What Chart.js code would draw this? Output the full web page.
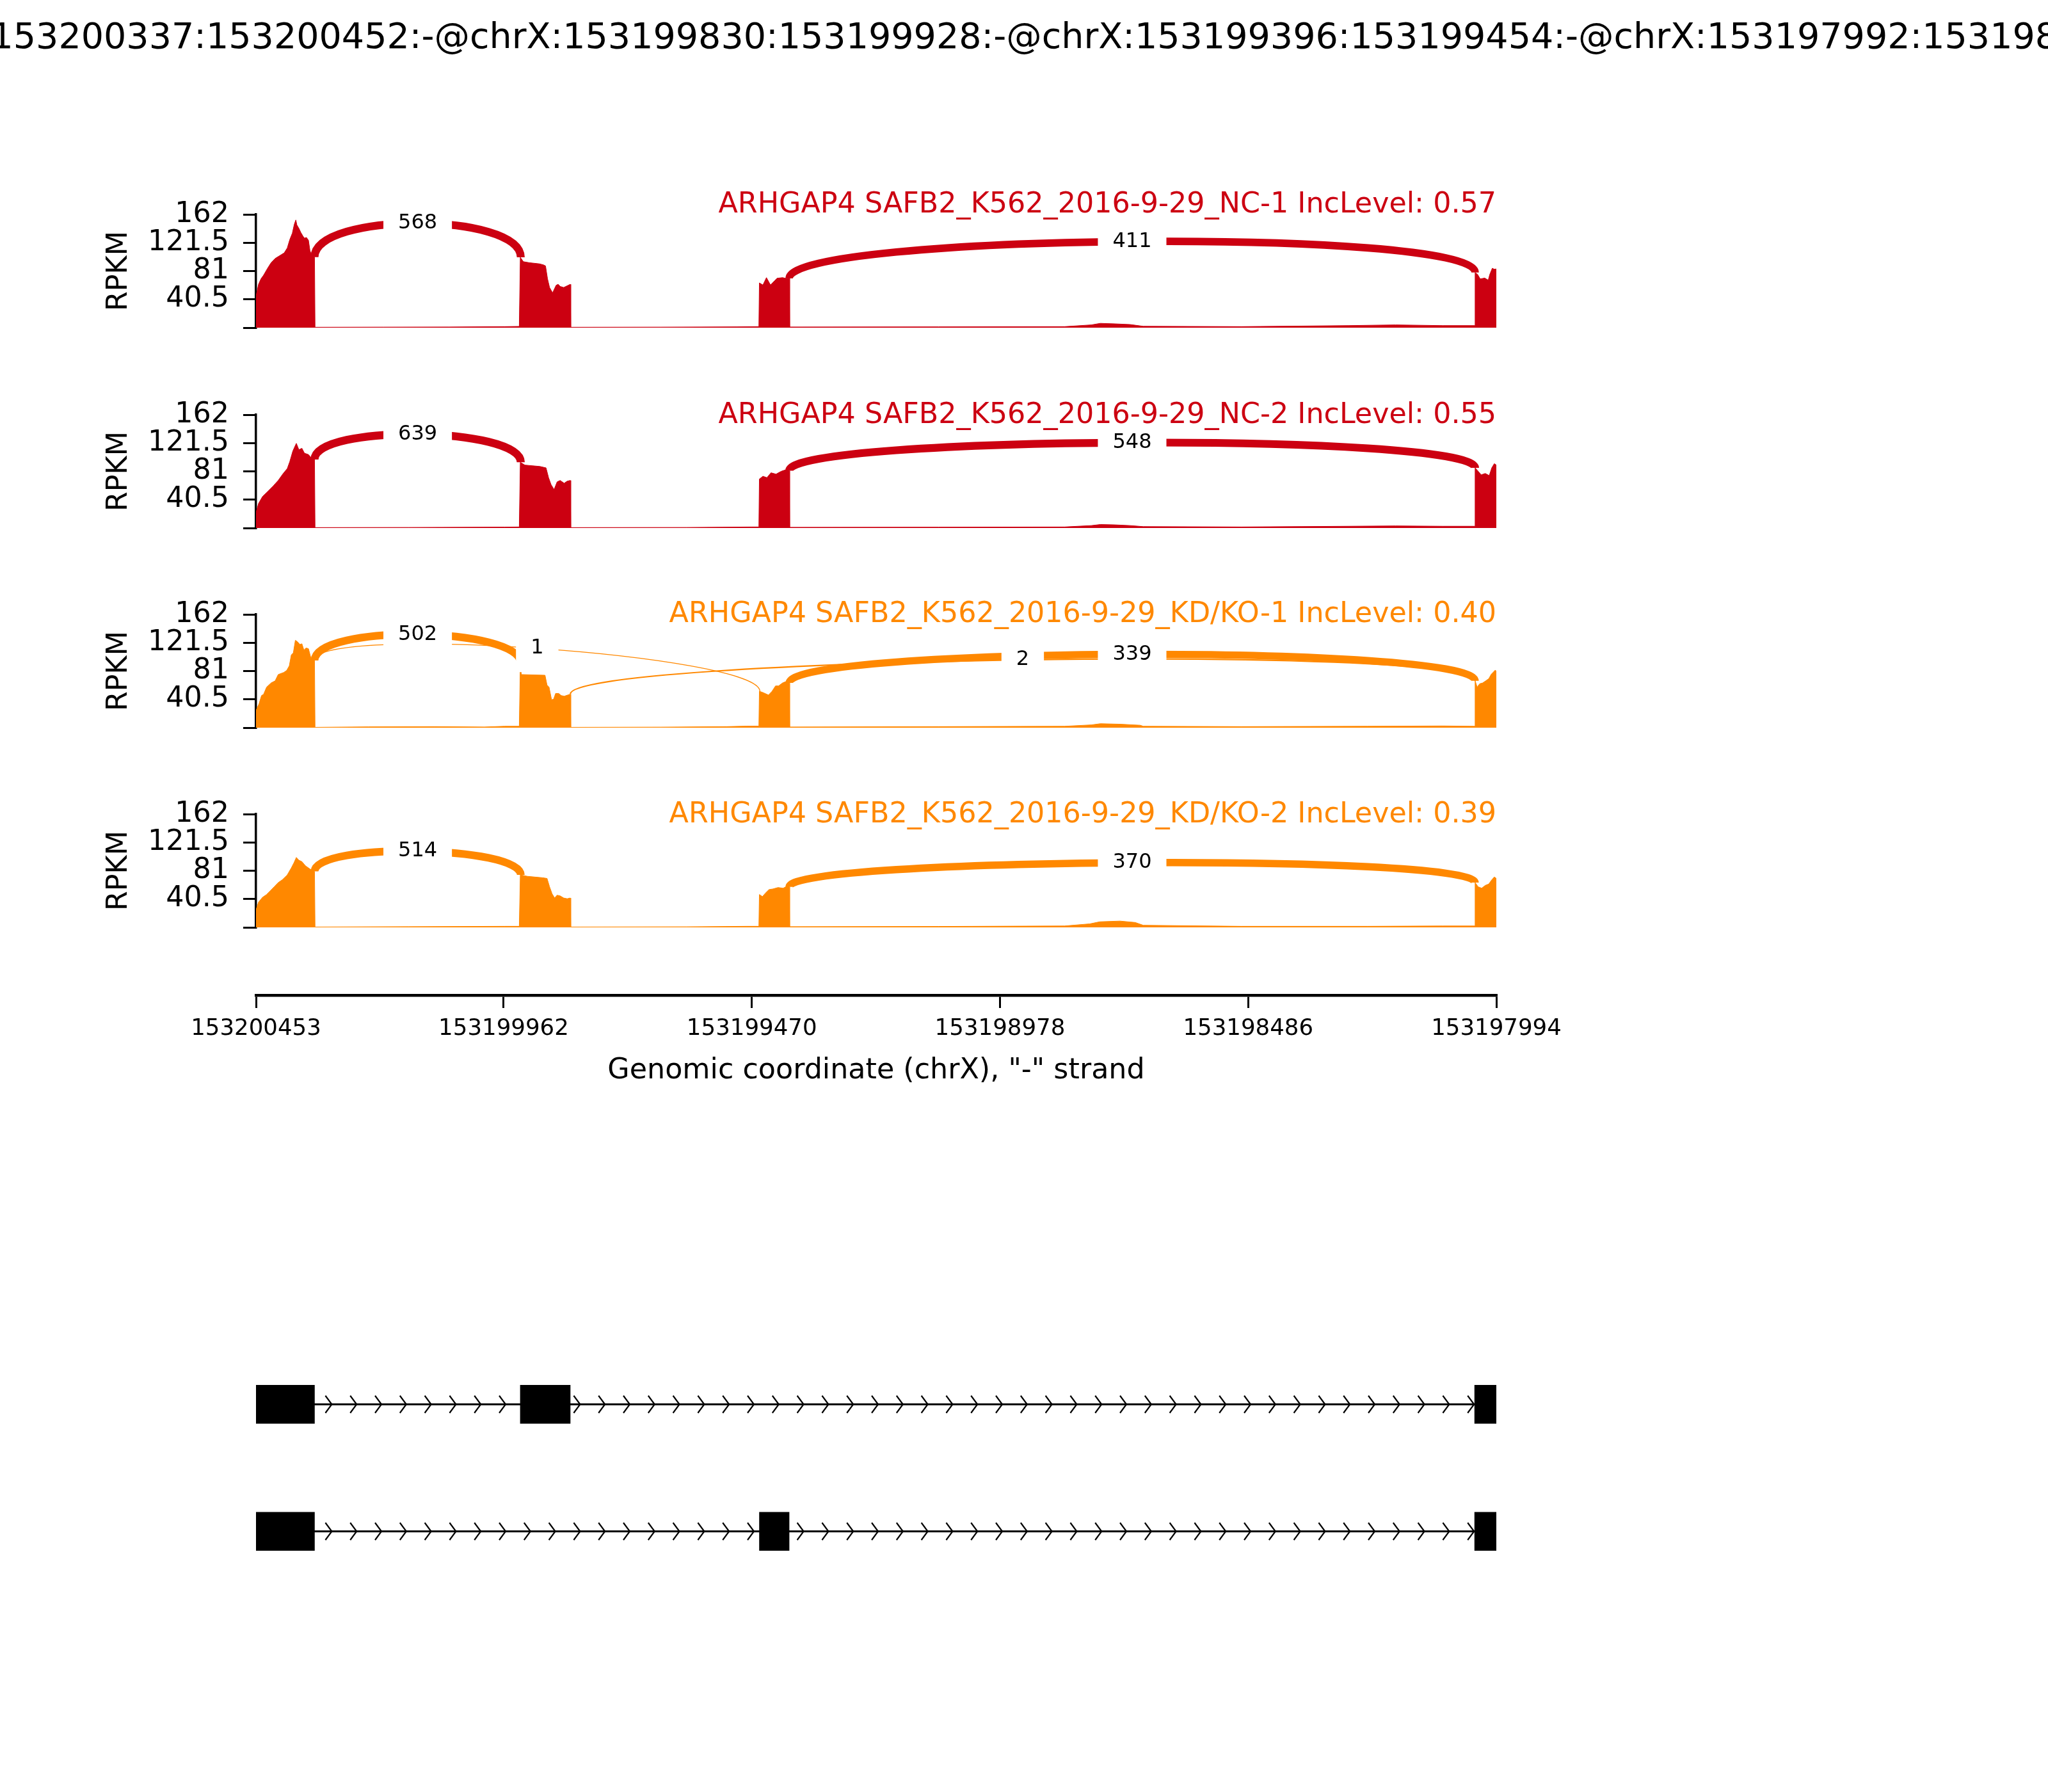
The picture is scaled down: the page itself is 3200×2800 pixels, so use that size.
<!DOCTYPE html>
<html><head><meta charset="utf-8">
<script src="https://cdn.jsdelivr.net/npm/chart.js@4.4.1/dist/chart.umd.min.js"></script>
<style>
html,body{margin:0;padding:0;background:#fff;}
#wrap{position:relative;width:3200px;height:2800px;overflow:hidden;background:#fff;}
#wrap canvas{position:absolute;left:0;}
</style></head><body><div id="wrap"></div>
<script>
// ---------------- data ----------------
const figureTitle = 'chrX:153200337:153200452:-@chrX:153199830:153199928:-@chrX:153199396:153199454:-@chrX:153197992:153198036:-';
const geneName = 'ARHGAP4';
const sampleNames = ['SAFB2_K562_2016-9-29_NC-1', 'SAFB2_K562_2016-9-29_NC-2', 'SAFB2_K562_2016-9-29_KD/KO-1', 'SAFB2_K562_2016-9-29_KD/KO-2'];
const incLevels = ['0.57', '0.55', '0.40', '0.39'];
const xTickValues = [153200453, 153199962, 153199470, 153198978, 153198486, 153197994];
const yTickValues = [0, 40.5, 81, 121.5, 162];
const xAxisTitle = 'Genomic coordinate (chrX), "-" strand';
const yAxisTitle = 'RPKM';

const nc1Pos = [153200453,153200448,153200443,153200438,153200430,153200423,153200415,153200406,153200397,153200391,153200386,153200381,153200377,153200374,153200372,153200368,153200364,153200360,153200357,153200353,153200349,153200346,153200343,153200339,153200337,
  153200336,153200200,153200070,153199960,153199931,
  153199929,153199923,153199911,153199891,153199883,153199879,153199875,153199871,153199865,153199858,153199854,153199850,153199843,153199830,
  153199829,153199650,153199500,153199456,
  153199455,153199448,153199441,153199433,153199425,153199420,153199409,153199400,153199396,
  153199395,153199100,153198850,153198797,153198779,153198750,153198720,153198694,153198500,153198287,153198194,153198100,153198037,
  153198036,153198031,153198026,153198017,153198010,153198007,153198002,153197998,153197994];
const nc1Cov = [45,62,70,75,85,93,99,103,107,114,126,135,148,154,147,142,136,131,128,129,125,110,104,101,101,
  0.6,0.8,1.0,1.5,1.8,
  100.6,94.4,92.9,91.3,89.8,88.3,69.8,57.5,49.8,60.6,62.1,59,57.5,62,
  0.6,0.8,1.2,1.5,
  64,61,71.6,61,67,70.7,71.6,70,70.5,
  1,1.2,1.5,4,6.2,5.5,4.5,2,1.5,3,4,3,3,
  79,76,69.7,71,68,76,85,83.6,84];

const nc2Pos = [153200453,153200448,153200440,153200430,153200419,153200409,153200399,153200391,153200386,153200380,153200375,153200373,153200368,153200362,153200357,153200349,153200343,153200339,153200337,
  153200336,153200150,153199960,153199931,
  153199929,153199920,153199905,153199890,153199878,153199873,153199868,153199862,153199856,153199850,153199842,153199836,153199830,
  153199829,153199600,153199470,153199456,
  153199455,153199448,153199440,153199432,153199422,153199412,153199404,153199396,
  153199395,153199100,153198850,153198797,153198779,153198750,153198720,153198694,153198500,153198287,153198194,153198100,153198037,
  153198036,153198031,153198024,153198016,153198008,153198003,153197998,153197994];
const nc2Cov = [22,35,45,52,60,68,78,85,95,110,118,121,112,114,107,105,100,98,98,
  0.6,0.8,1.3,1.5,
  94,90,89,88,86,72,62,55,66,68,64,67,68,
  0.6,0.8,1.5,1.5,
  70,74,72,79,77,81,83,82,
  1,1.2,1.5,3.5,5,4.5,3.5,2,1.5,2.5,3,2.5,2.5,
  86,82,76,78,75,86,92,90];

const kd1Pos = [153200453,153200451,153200447,153200442,153200438,153200432,153200423,153200415,153200409,153200398,153200392,153200387,153200383,153200379,153200375,153200371,153200366,153200362,153200358,153200354,153200349,153200345,153200343,153200337,
  153200336,153200230,153200100,153200000,153199960,153199931,
  153199929,153199927,153199880,153199876,153199872,153199867,153199863,153199859,153199853,153199848,153199842,153199831,153199830,
  153199829,153199650,153199520,153199480,153199456,
  153199455,153199449,153199437,153199430,153199423,153199417,153199409,153199403,153199396,
  153199395,153199100,153198850,153198797,153198779,153198740,153198700,153198694,153198500,153198250,153198100,153198037,
  153198036,153198032,153198027,153198021,153198015,153198009,153198004,153197996,153197994];
const kd1Cov = [24,28,34,46,47.6,58,64,67,76,79,82,88.5,104,107,125,123,119,120,111,114,113,102,96,96,
  0.5,1.2,1.5,1.0,2,2,
  92,76,75,61,58,40,40.7,49,49,46,45,47.6,48,
  0.5,0.8,1.5,2.2,2.3,
  52,50.6,46.7,52,59.7,59.7,64,65.8,64,
  1,1.5,2,4,5.7,5,3.5,2,1.5,2,2.5,2,
  67,58,62.8,64,67,70,76.4,82.4,80];

const kd2Pos = [153200453,153200448,153200440,153200432,153200425,153200417,153200409,153200401,153200391,153200383,153200378,153200373,153200368,153200362,153200355,153200347,153200339,153200337,
  153200336,153200150,153199960,153199931,
  153199929,153199915,153199900,153199885,153199876,153199871,153199866,153199861,153199856,153199850,153199843,153199836,153199830,
  153199829,153199600,153199480,153199456,
  153199455,153199449,153199443,153199436,153199428,153199418,153199408,153199400,153199396,
  153199395,153199100,153198850,153198800,153198780,153198740,153198710,153198694,153198500,153198250,153198100,153198037,
  153198036,153198030,153198023,153198016,153198009,153198003,153197998,153197994];
const kd2Cov = [25,36,43,47,52,58,64,68,75,85,92,100,96,94,88,84,80,80,
  0.5,1.0,1.5,1.5,
  75,73,72,71,70,58,48,42,46,45,42,41,42,
  0.5,0.8,1.5,1.5,
  47,44,49,54,55,57,56,59,58,
  1,1.3,2,5,8,9,7,3,1.5,1.5,2,2,
  64,58,56,60,62,68,72,70];

// junctions: [upstream exon boundary, downstream exon boundary, read count]
const nc1Junctions = [[153200337,153199928,568],[153199396,153198036,411]];
const nc2Junctions = [[153200337,153199928,639],[153199396,153198036,548]];
const kd1Junctions = [[153200337,153199928,502],[153200337,153199454,1],[153199830,153198036,2],[153199396,153198036,339]];
const kd2Junctions = [[153200337,153199928,514],[153199396,153198036,370]];

// gene model exons [start, end]
const transcript1Exons = [[153200337,153200452],[153199830,153199928],[153197992,153198036]];
const transcript2Exons = [[153200337,153200452],[153199396,153199454],[153197992,153198036]];

// ---------------- styles / layout ----------------
const RED = '#CC0011', ORANGE = '#FF8800';
const FONT = "'DejaVu Sans', 'Liberation Sans', sans-serif";
Chart.defaults.font.family = FONT;
Chart.defaults.color = '#000';
const X_MIN = 153197994, X_MAX = 153200453;
const PLOT_LEFT = 400, PLOT_RIGHT_PAD = 862;
const ARC_RISE = 0.42;
const samples = [
  {pos: nc1Pos, cov: nc1Cov, jx: nc1Junctions, color: RED},
  {pos: nc2Pos, cov: nc2Cov, jx: nc2Junctions, color: RED},
  {pos: kd1Pos, cov: kd1Cov, jx: kd1Junctions, color: ORANGE},
  {pos: kd2Pos, cov: kd2Cov, jx: kd2Junctions, color: ORANGE}
];
const panelTop = [0, 548, 860, 1172];
const panelPadTop = [335, 100, 100, 100];
const panelTitleOffset = [180.5, 164, 165.5, 164];
const PANEL_H = 177, PANEL_PAD_BOTTOM = 52;

const wrap = document.getElementById('wrap');
function makeCanvas(top, h) {
  const c = document.createElement('canvas');
  c.width = 3200; c.height = h;
  c.style.top = top + 'px'; c.style.width = '3200px'; c.style.height = h + 'px';
  wrap.appendChild(c);
  return c;
}
function covAt(s, c) {
  let best = 0, bd = Infinity;
  s.pos.forEach((p, i) => { const d = Math.abs(p - c); if (d < bd) { bd = d; best = i; } });
  return s.cov[best];
}

const sashimiPlugin = {
  id: 'sashimi',
  afterDatasetsDraw(chart) {
    const s = chart.config.options.plugins.sashimi;
    const smp = samples[s.index];
    const {ctx} = chart; const x = chart.scales.x, y = chart.scales.y;
    const h = ARC_RISE * Math.max(...smp.cov);
    const labels = [];
    ctx.save();
    ctx.lineCap = 'butt';
    smp.jx.forEach(([a, b, n]) => {
      const ya = covAt(smp, a), yb = covAt(smp, b);
      const x0 = x.getPixelForValue(a), x1 = x.getPixelForValue(b);
      ctx.beginPath();
      ctx.moveTo(x0, y.getPixelForValue(ya));
      ctx.bezierCurveTo(x0, y.getPixelForValue(ya + h), x1, y.getPixelForValue(yb + h), x1, y.getPixelForValue(yb));
      ctx.lineWidth = 320 / 72 * Math.log10(n + 1);
      ctx.strokeStyle = smp.color;
      ctx.stroke();
      labels.push({x: (x0 + x1) / 2, y: y.getPixelForValue((ya + yb) / 2 + 0.75 * h), t: String(n)});
    });
    ctx.font = '32px ' + FONT;
    ctx.textAlign = 'center'; ctx.textBaseline = 'middle';
    labels.forEach(L => {
      const w = ctx.measureText(L.t).width + 46;
      ctx.fillStyle = '#fff';
      ctx.fillRect(L.x - w / 2, L.y - 37, w, 74);
    });
    ctx.fillStyle = '#000';
    labels.forEach(L => ctx.fillText(L.t, L.x, L.y));
    ctx.restore();
  },
  afterDraw(chart) {
    const s = chart.config.options.plugins.sashimi;
    const smp = samples[s.index];
    const {ctx, chartArea} = chart;
    ctx.save();
    ctx.font = '44.4px ' + FONT;
    ctx.textAlign = 'right'; ctx.textBaseline = 'alphabetic';
    ctx.fillStyle = smp.color;
    ctx.fillText(geneName + ' ' + sampleNames[s.index] + ' IncLevel: ' + incLevels[s.index], chartArea.right, chartArea.bottom - panelTitleOffset[s.index]);
    if (s.index === 0) {
      ctx.font = '55.5px ' + FONT;
      ctx.textAlign = 'center'; ctx.textBaseline = 'middle';
      ctx.fillStyle = '#000';
      ctx.fillText(figureTitle, 1600, 61);
    }
    ctx.restore();
  }
};

samples.forEach((smp, i) => {
  const h = panelPadTop[i] + PANEL_H + PANEL_PAD_BOTTOM;
  const cv = makeCanvas(panelTop[i], h);
  new Chart(cv, {
    type: 'line',
    data: {datasets: [{
      data: smp.pos.map((p, k) => ({x: p, y: smp.cov[k]})),
      fill: 'origin', backgroundColor: smp.color, borderColor: smp.color,
      borderWidth: 1, pointRadius: 0, tension: 0
    }]},
    options: {
      responsive: false, animation: false, devicePixelRatio: 1,
      layout: {padding: {left: 0, right: PLOT_RIGHT_PAD, top: panelPadTop[i], bottom: PANEL_PAD_BOTTOM}},
      plugins: {legend: {display: false}, tooltip: {enabled: false}, sashimi: {index: i}},
      scales: {
        x: {type: 'linear', display: false, min: X_MIN, max: X_MAX, reverse: true},
        y: {
          type: 'linear', min: 0, max: 162, position: 'left',
          afterBuildTicks: sc => { sc.ticks = yTickValues.map(v => ({value: v})); },
          afterFit: sc => { sc.width = PLOT_LEFT; },
          ticks: {autoSkip: false, padding: 22, font: {size: 44.4}, color: '#000', callback: v => v === 0 ? '' : String(v)},
          grid: {drawOnChartArea: false, drawTicks: true, tickLength: 20, lineWidth: 3, tickWidth: 3, color: '#000', tickColor: '#000'},
          border: {display: true, color: '#000', width: 3.5},
          title: {display: true, text: yAxisTitle, font: {size: 44.4}, color: '#000', padding: {top: 159.4, bottom: 0}}
        }
      }
    },
    plugins: [sashimiPlugin]
  });
});

// x axis
{
  const cv = makeCanvas(1485, 320);
  new Chart(cv, {
    type: 'scatter',
    data: {datasets: [{data: []}]},
    options: {
      responsive: false, animation: false, devicePixelRatio: 1,
      layout: {padding: {left: PLOT_LEFT, right: PLOT_RIGHT_PAD, top: 0, bottom: 0}},
      plugins: {legend: {display: false}, tooltip: {enabled: false}},
      scales: {
        x: {
          type: 'linear', position: 'bottom', min: X_MIN, max: X_MAX, reverse: true,
          afterBuildTicks: sc => { sc.ticks = xTickValues.map(v => ({value: v})); },
          afterFit: sc => { sc.height = 250; },
          ticks: {autoSkip: false, maxRotation: 0, minRotation: 0, padding: 11, font: {size: 35.6}, color: '#000', callback: v => String(v)},
          grid: {drawOnChartArea: false, drawTicks: true, tickLength: 20, lineWidth: 3, tickWidth: 3, color: '#000', tickColor: '#000'},
          border: {display: true, color: '#000', width: 4.5},
          title: {display: true, text: xAxisTitle, font: {size: 44.4}, color: '#000', padding: {top: 0, bottom: 105}}
        },
        y: {display: false, min: 0, max: 1}
      }
    }
  });
}

// gene model
{
  const transcripts = [transcript1Exons, transcript2Exons];
  const labels = ['t1', 't2'];
  const bars = [];
  transcripts.forEach((ex, i) => ex.forEach(e => bars.push({y: labels[i], x: [e[1] + 1, e[0]]})));
  const genePlugin = {
    id: 'geneModel',
    beforeDatasetsDraw(chart) {
      const {ctx} = chart; const x = chart.scales.x, y = chart.scales.y;
      ctx.save();
      ctx.strokeStyle = '#000';
      transcripts.forEach((ex, i) => {
        const yc = y.getPixelForValue(i);
        const left = x.getPixelForValue(ex[0][1] + 1);
        const right = Math.min(x.getPixelForValue(ex[ex.length - 1][0]), chart.chartArea.right);
        ctx.lineWidth = 3;
        ctx.beginPath(); ctx.moveTo(left, yc); ctx.lineTo(right, yc); ctx.stroke();
        const firstEnd = x.getPixelForValue(ex[0][0]);
        const lastStart = x.getPixelForValue(ex[ex.length - 1][1] + 1);
        ctx.lineWidth = 2.2;
        for (let px = firstEnd + 17; px + 10 < lastStart; px += 38.8) {
          ctx.beginPath();
          ctx.moveTo(px, yc - 13.5); ctx.lineTo(px + 10, yc); ctx.lineTo(px, yc + 13.5);
          ctx.stroke();
        }
      });
      ctx.restore();
    }
  };
  const cv = makeCanvas(2095, 397);
  new Chart(cv, {
    type: 'bar',
    data: {labels: labels, datasets: [{data: bars, backgroundColor: '#000', borderWidth: 0, barThickness: 60}]},
    options: {
      indexAxis: 'y', responsive: false, animation: false, devicePixelRatio: 1,
      layout: {padding: {left: PLOT_LEFT, right: PLOT_RIGHT_PAD, top: 0, bottom: 0}},
      plugins: {legend: {display: false}, tooltip: {enabled: false}},
      scales: {
        x: {type: 'linear', display: false, min: X_MIN, max: X_MAX, reverse: true},
        y: {type: 'category', display: false, offset: true}
      }
    },
    plugins: [genePlugin]
  });
}
</script></body></html>
